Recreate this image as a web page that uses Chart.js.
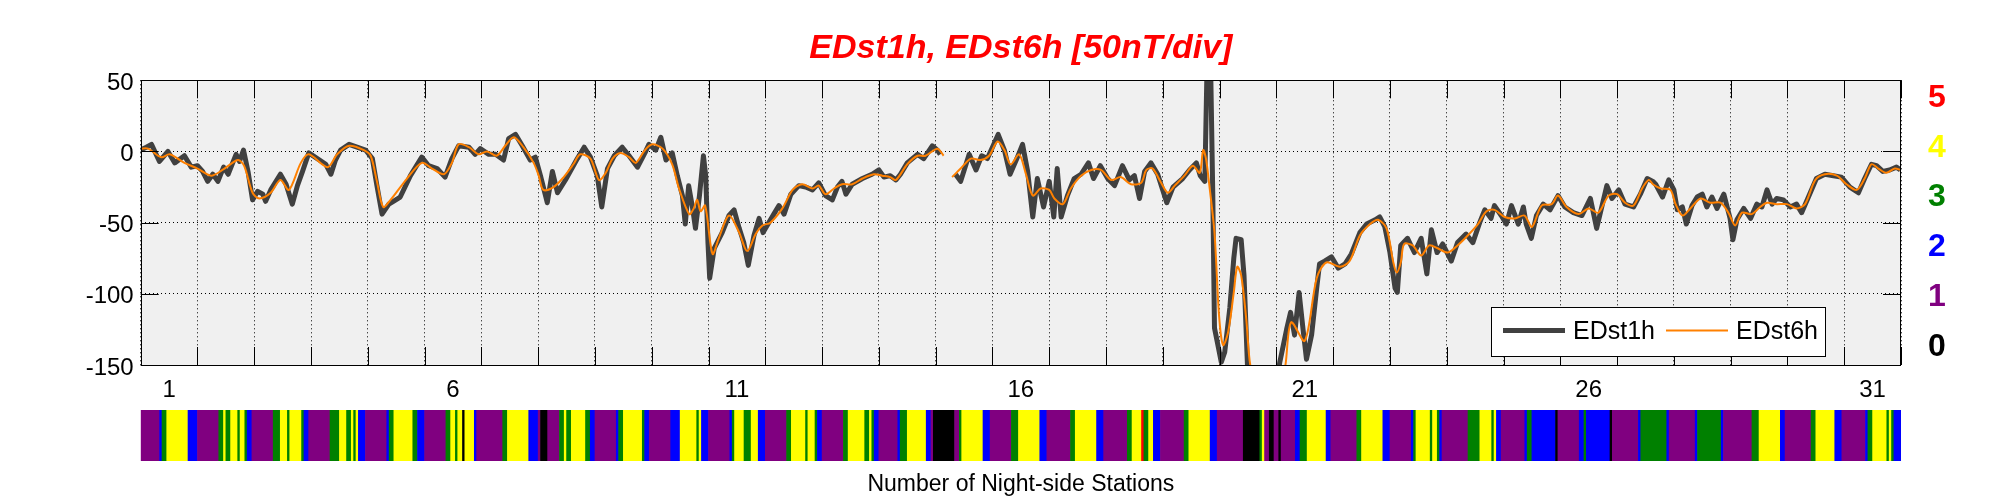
<!DOCTYPE html>
<html>
<head>
<meta charset="utf-8">
<script src="https://cdn.jsdelivr.net/npm/chart.js@4.4.1/dist/chart.umd.min.js"></script>
<style>
  body { margin: 0; background: #fff; }
  #wrap { position: relative; width: 2001px; height: 500px; }
  canvas { position: absolute; left: 0; }
  #main { top: 0; }
  #strip { top: 400px; }
</style>
</head>
<body>
<div id="wrap">
  <canvas id="main" width="2001" height="400"></canvas>
  <canvas id="strip" width="2001" height="100"></canvas>
</div>
<script>
// time is in days since the start of the month (0 = day 1, 00 UT)
let dayLabels = [1, 6, 11, 16, 21, 26, 31];
let yTicks = [-150, -100, -50, 0, 50];
let stationTicks = [0, 1, 2, 3, 4, 5];
let stationColors = ['#000000', '#800080', '#0000ff', '#008000', '#ffff00', '#ff0000'];

let edst1hDay = [
  0.00,0.10,0.19,0.33,0.48,0.60,0.77,0.89,1.00,1.09,
  1.18,1.27,1.36,1.46,1.54,1.68,1.74,1.81,1.89,1.97,
  2.06,2.15,2.20,2.29,2.46,2.56,2.67,2.76,2.85,2.96,
  3.11,3.26,3.35,3.43,3.52,3.67,3.81,3.96,4.08,4.16,
  4.25,4.37,4.45,4.57,4.75,4.95,5.07,5.22,5.36,5.48,
  5.60,5.78,5.89,5.98,6.13,6.25,6.39,6.48,6.60,6.72,
  6.86,6.95,7.04,7.16,7.25,7.34,7.48,7.69,7.81,7.92,
  8.04,8.12,8.22,8.34,8.48,8.60,8.75,8.88,8.95,9.07,
  9.16,9.25,9.36,9.45,9.54,9.59,9.65,9.72,9.77,9.84,
  9.91,9.95,9.99,10.02,10.10,10.24,10.36,10.45,10.54,10.62,
  10.70,10.80,10.89,10.96,11.06,11.15,11.24,11.33,11.45,11.59,
  11.71,11.83,11.94,12.06,12.18,12.27,12.35,12.42,12.53,12.71,
  12.88,13.00,13.09,13.20,13.30,13.38,13.50,13.68,13.79,13.94,
  14.03,14.08,14.20,14.35,14.44,14.59,14.71,14.81,14.91,15.00,
  15.10,15.21,15.31,15.43,15.53,15.62,15.71,15.79,15.90,16.00,
  16.08,16.14,16.21,16.32,16.44,16.56,16.69,16.78,16.90,17.03,
  17.15,17.29,17.41,17.50,17.59,17.68,17.79,17.91,18.07,18.18,
  18.35,18.47,18.59,18.66,18.74,18.78,18.84,18.88,18.91,18.97,
  19.03,19.09,19.18,19.25,19.29,19.38,19.43,19.50,19.65,19.85,
  20.00,20.06,20.18,20.25,20.32,20.40,20.47,20.53,20.62,20.71,
  20.76,20.85,20.97,21.09,21.21,21.32,21.47,21.59,21.74,21.82,
  21.91,22.00,22.09,22.13,22.19,22.31,22.43,22.55,22.65,22.73,
  22.83,22.93,23.08,23.19,23.34,23.46,23.58,23.67,23.78,23.84,
  23.96,24.05,24.14,24.26,24.35,24.40,24.49,24.58,24.70,24.82,
  24.96,25.08,25.23,25.38,25.53,25.64,25.73,25.82,25.91,26.03,
  26.14,26.29,26.41,26.53,26.63,26.68,26.80,26.91,27.00,27.06,
  27.15,27.22,27.32,27.41,27.50,27.58,27.67,27.76,27.88,27.99,
  28.04,28.11,28.23,28.35,28.46,28.55,28.64,28.73,28.81,28.93,
  29.05,29.16,29.25,29.37,29.51,29.66,29.81,29.95,30.10,30.25,
  30.36,30.48,30.57,30.68,30.80,30.92,30.99
];
let edst1hVal = [
  1,3,5,-7,0,-8,-3,-11,-10,-14,
  -21,-16,-21,-11,-16,-2,-7,1,-14,-34,
  -28,-30,-35,-27,-16,-23,-37,-24,-14,-1,
  -5,-9,-16,-6,1,5,3,1,-5,-24,
  -44,-37,-35,-32,-17,-4,-10,-12,-18,-5,
  4,3,-2,2,-2,-2,-6,9,12,4,
  -6,-4,-17,-36,-14,-29,-20,-5,3,-4,
  -17,-39,-12,-3,3,-3,-11,-1,5,1,
  10,-6,-1,-17,-31,-51,-24,-40,-54,-31,
  -3,-17,-64,-89,-68,-57,-45,-41,-54,-64,
  -80,-59,-47,-57,-50,-44,-38,-44,-30,-24,
  -25,-27,-22,-31,-34,-25,-21,-30,-23,-19,
  -16,-13,-18,-17,-20,-16,-8,-2,-5,4,
  1,-2,null,-16,-21,-2,-13,-3,-5,3,
  12,1,-16,-5,5,-14,-46,-19,-39,-21,
  -46,-12,-46,-31,-19,-16,-8,-19,-10,-19,
  -24,-10,-20,-17,-33,-14,-8,-16,-36,-25,
  -19,-13,-8,-17,-21,62,65,-30,-124,-136,
  -148,-141,-110,-75,-61,-62,-87,-160,-185,-190,
  -165,-148,-125,-113,-129,-99,-125,-146,-129,-96,
  -79,-77,-74,-82,-79,-72,-57,-51,-48,-46,
  -53,-71,-96,-99,-66,-61,-71,-61,-86,-55,
  -71,-65,-77,-64,-58,-64,-50,-41,-47,-38,
  -45,-51,-38,-51,-39,-51,-61,-45,-37,-41,
  -31,-39,-43,-45,-33,-54,-39,-24,-33,-27,
  -37,-39,-30,-19,-21,-23,-32,-20,-27,-41,
  -39,-51,-38,-32,-30,-39,-32,-40,-30,-47,
  -62,-48,-40,-47,-37,-39,-27,-37,-33,-34,
  -39,-37,-43,-32,-19,-16,-17,-18,-25,-29,
  -19,-9,-10,-14,-13,-11,-13
];

let edst6hDay = [
  0.00,0.13,0.36,0.51,0.77,1.00,1.24,1.44,1.71,1.82,
  1.97,2.09,2.29,2.46,2.61,2.82,2.96,3.29,3.46,3.67,
  3.93,4.05,4.16,4.27,4.40,4.69,4.95,5.13,5.34,5.48,
  5.60,5.78,5.95,6.10,6.27,6.42,6.57,6.74,6.92,7.01,
  7.09,7.27,7.45,7.62,7.74,7.92,8.07,8.19,8.31,8.45,
  8.60,8.72,8.88,9.01,9.19,9.36,9.48,9.66,9.74,9.80,
  9.86,9.94,10.07,10.18,10.36,10.54,10.68,10.83,10.95,11.09,
  11.30,11.48,11.65,11.83,11.94,12.06,12.21,12.35,12.53,12.71,
  12.91,13.06,13.20,13.30,13.50,13.68,13.82,14.03,14.14,14.20,
  14.29,14.44,14.62,14.79,14.94,15.09,15.21,15.32,15.47,15.59,
  15.71,15.85,16.00,16.09,16.24,16.38,16.56,16.74,16.91,17.09,
  17.26,17.44,17.62,17.71,17.82,17.97,18.09,18.21,18.38,18.53,
  18.65,18.71,18.76,18.82,18.91,18.99,19.06,19.15,19.25,19.31,
  19.38,19.47,19.54,19.70,19.90,20.10,20.16,20.26,20.50,20.71,
  20.88,21.12,21.29,21.47,21.65,21.79,21.94,22.06,22.12,22.19,
  22.25,22.40,22.55,22.69,22.84,23.02,23.19,23.37,23.55,23.70,
  23.84,24.02,24.20,24.37,24.50,24.67,24.85,24.96,25.11,25.32,
  25.50,25.67,25.85,26.00,26.14,26.29,26.44,26.56,26.63,26.77,
  26.94,27.03,27.15,27.29,27.47,27.64,27.82,27.96,28.08,28.20,
  28.37,28.52,28.64,28.81,28.99,29.16,29.31,29.49,29.66,29.87,
  30.04,30.22,30.36,30.48,30.60,30.74,30.89,31.00
];
let edst6hVal = [
  2,2,-4,-2,-8,-12,-17,-13,-6,-10,
  -29,-33,-29,-20,-27,-8,-2,-11,-2,4,
  1,-3,-21,-39,-34,-19,-8,-12,-16,-8,
  5,3,-2,0,-3,4,10,3,-8,-17,
  -27,-25,-18,-9,-2,-5,-20,-15,-5,-1,
  -4,-8,1,5,2,-9,-26,-44,-40,-34,
  -42,-38,-72,-61,-45,-57,-70,-58,-52,-50,
  -40,-27,-23,-26,-24,-30,-26,-23,-23,-19,
  -16,-17,-18,-20,-9,-3,-3,2,-3,null,
  -18,-12,-5,-6,-3,7,1,-9,-2,-16,
  -31,-26,-27,-33,-37,-26,-17,-13,-13,-20,
  -18,-23,-22,-13,-12,-22,-29,-24,-17,-10,
  -15,1,-5,-24,-57,-115,-136,-127,-99,-81,
  -87,-118,-150,-175,-180,-160,-150,-120,-133,-89,
  -78,-81,-77,-59,-51,-48,-54,-78,-85,-78,
  -65,-66,-73,-66,-68,-71,-66,-59,-51,-42,
  -41,-46,-47,-45,-53,-38,-37,-31,-39,-44,
  -40,-43,-31,-30,-36,-38,-26,-20,-23,-26,
  -27,-37,-45,-40,-33,-36,-36,-43,-52,-43,
  -44,-39,-36,-37,-37,-40,-37,-20,-16,-17,
  -23,-27,-19,-9,-12,-15,-12,-13
];

// night-side station count, as runs: hour where a run starts, and its count
let stationHour = [
  0,8,9,11,20,24,33,35,36,38,
  41,42,44,45,47,56,59,62,63,68,
  69,71,80,84,87,89,90,91,92,95,
  104,105,107,115,117,120,129,131,133,134,
  136,137,141,142,153,155,164,168,169,172,
  177,179,180,182,188,190,192,201,202,204,
  212,213,215,224,228,235,236,237,240,249,
  250,251,255,258,261,264,273,275,281,282,
  285,286,288,297,299,306,308,309,310,312,
  320,321,324,332,334,335,344,346,347,356,
  359,368,371,380,383,393,395,404,407,417,
  419,423,424,426,428,431,441,443,452,455,
  466,473,474,475,477,479,481,482,488,490,
  493,501,503,514,516,525,528,537,538,539,
  545,546,548,549,550,561,566,571,572,573,
  575,585,586,588,598,599,608,610,611,621,
  622,633,634,645,646,657,658,668,669,681,
  684,693,695,706,708,716,719,729,730,732,
  738,739,740,741
];
let stationCount = [
  1,2,3,4,2,1,3,4,3,4,
  3,4,3,2,1,3,4,3,4,3,
  2,1,3,4,3,4,3,4,2,1,
  2,3,4,3,2,1,3,4,3,4,
  0,4,2,1,3,4,2,1,0,1,
  3,4,3,4,3,2,1,2,3,4,
  3,2,1,2,4,3,4,2,1,2,
  3,4,3,4,2,1,3,4,3,4,
  3,2,1,3,4,3,4,3,2,1,
  2,3,4,2,1,0,1,3,4,2,
  1,3,4,2,1,3,4,2,1,3,
  4,5,3,4,2,1,3,4,2,1,
  0,3,4,1,0,1,0,1,2,3,
  4,2,1,3,4,2,1,2,3,4,
  3,4,3,2,1,3,4,3,4,2,
  1,2,3,2,0,1,2,3,2,0,
  1,2,3,2,1,2,3,2,1,3,
  4,2,1,3,4,2,1,2,3,4,
  3,4,3,2
];
let monthHours = 744;

Chart.defaults.font.family = '"Liberation Sans", Arial, Helvetica, sans-serif';
Chart.defaults.color = '#000';

let toPoints = (days, vals) => days.map((d, i) => ({x: d, y: vals[i]}));
let isDay = v => Number.isInteger(v);

// grey axes background, inward ticks and the black box, like the original
let axesBox = {
  id: 'axesBox',
  beforeDraw(chart) {
    let a = chart.chartArea, ctx = chart.ctx;
    ctx.save();
    ctx.fillStyle = '#f0f0f0';
    ctx.fillRect(a.left, a.top, a.right - a.left, a.bottom - a.top);
    ctx.restore();
  },
  afterDatasetsDraw(chart) {
    let a = chart.chartArea, ctx = chart.ctx;
    let xs = chart.scales.x, ys = chart.scales.y;
    ctx.save();
    ctx.strokeStyle = '#000';
    ctx.lineWidth = 1;
    ctx.beginPath();
    xs.ticks.filter(t => isDay(t.value)).forEach(t => {
      let px = Math.round(xs.getPixelForValue(t.value)) + 0.5;
      ctx.moveTo(px, a.top); ctx.lineTo(px, a.top + 18);
      ctx.moveTo(px, a.bottom); ctx.lineTo(px, a.bottom - 18);
    });
    ys.ticks.forEach(t => {
      let py = Math.round(ys.getPixelForValue(t.value)) + 0.5;
      ctx.moveTo(a.left, py); ctx.lineTo(a.left + 18, py);
      ctx.moveTo(a.right, py); ctx.lineTo(a.right - 18, py);
    });
    ctx.stroke();
    ctx.strokeRect(Math.round(a.left) + 0.5, Math.round(a.top) + 0.5,
      Math.round(a.right - a.left) - 1, Math.round(a.bottom - a.top));
    ctx.restore();
  }
};

// legend box in the lower right corner of the axes
let boxLegend = {
  id: 'boxLegend',
  afterDraw(chart) {
    let a = chart.chartArea, ctx = chart.ctx;
    let w = 334, h = 49;
    let bx = Math.round(a.right - 76 - w), by = Math.round(a.bottom - 9 - h);
    ctx.save();
    ctx.fillStyle = '#fff';
    ctx.fillRect(bx, by, w, h);
    ctx.strokeStyle = '#000';
    ctx.lineWidth = 1;
    ctx.strokeRect(bx + 0.5, by + 0.5, w, h);
    ctx.font = '25px "Liberation Sans", Arial, sans-serif';
    ctx.textBaseline = 'middle';
    ctx.fillStyle = '#000';
    let cy = by + h / 2;
    let offs = [12, 175];
    chart.data.datasets.forEach((ds, i) => {
      let lx = bx + offs[i];
      ctx.strokeStyle = ds.borderColor;
      ctx.lineWidth = ds.borderWidth;
      ctx.beginPath();
      ctx.moveTo(lx, cy - 1);
      ctx.lineTo(lx + 62, cy - 1);
      ctx.stroke();
      ctx.fillText(ds.label, lx + 70, cy + 1);
    });
    ctx.restore();
  }
};

// vertical axes must not push the plot box in with their end labels
let noEndPadding = s => { s.paddingTop = 0; s.paddingBottom = 0; };

new Chart(document.getElementById('main'), {
  type: 'line',
  data: {
    datasets: [
      {
        label: 'EDst1h',
        data: toPoints(edst1hDay, edst1hVal),
        borderColor: '#404040',
        borderWidth: 5,
        borderJoinStyle: 'round',
        pointRadius: 0,
        tension: 0,
        clip: 0,
        order: 1,
      },
      {
        label: 'EDst6h',
        data: toPoints(edst6hDay, edst6hVal),
        borderColor: '#ff8000',
        borderWidth: 2,
        pointRadius: 0,
        tension: 0.3,
        clip: 0,
        order: 0,
      },
    ],
  },
  options: {
    responsive: false,
    animation: false,
    layout: { padding: 0 },
    plugins: {
      legend: { display: false },
      tooltip: { enabled: false },
      title: {
        display: true,
        fullSize: false,
        text: 'EDst1h, EDst6h [50nT/div]',
        color: '#ff0000',
        font: { size: 34, style: 'italic', weight: 'bold', lineHeight: 1.2 },
        padding: { top: 28, bottom: 11.5 },
      },
    },
    scales: {
      // grid lines at day boundaries, day numbers at noon
      x: {
        type: 'linear', min: 0, max: 31,
        afterBuildTicks: s => { s.ticks = []; for (let k = 0; k <= 62; k++) s.ticks.push({ value: k / 2 }); },
        ticks: {
          callback: v => dayLabels.includes(v + 0.5) ? String(v + 0.5) : '',
          font: { size: 24 }, padding: 11, maxRotation: 0, autoSkip: false,
        },
        grid: {
          color: c => (c.tick && isDay(c.tick.value)) ? '#000' : 'rgba(0,0,0,0)',
          lineWidth: 1, drawTicks: false,
        },
        border: { display: false, dash: [1, 3] },
        afterFit: s => { s.height = 35; },
      },
      y: {
        type: 'linear', position: 'left', min: -150, max: 50,
        afterBuildTicks: s => { s.ticks = yTicks.map(v => ({ value: v })); },
        ticks: { font: { size: 24 }, padding: 7, labelOffset: 3 },
        grid: { color: '#000', lineWidth: 1, drawTicks: false },
        border: { display: false, dash: [1, 3] },
        afterFit: s => { s.width = 140.7; noEndPadding(s); },
      },
      y2: {
        type: 'linear', position: 'right', min: -0.36, max: 5.355,
        afterBuildTicks: s => { s.ticks = stationTicks.map(v => ({ value: v })); },
        ticks: {
          font: { size: 32, weight: 'bold' },
          color: c => stationColors[c.tick ? c.tick.value : 0],
          padding: 27,
        },
        grid: { display: false, drawTicks: false },
        border: { display: false },
        afterFit: s => { s.width = 100; noEndPadding(s); },
      },
    },
  },
  plugins: [axesBox, boxLegend],
});

// colour strip: one floating bar per run of equal station count
let runs = stationHour.map((h, i) => ({
  y: 'n',
  x: [h / 24, (i + 1 < stationHour.length ? stationHour[i + 1] : monthHours) / 24],
}));

new Chart(document.getElementById('strip'), {
  type: 'bar',
  data: {
    labels: ['n'],
    datasets: [{
      data: runs,
      backgroundColor: stationCount.map(c => stationColors[c]),
      borderWidth: 0,
      barPercentage: 1,
      categoryPercentage: 1,
    }],
  },
  options: {
    indexAxis: 'y',
    responsive: false,
    animation: false,
    layout: { padding: { left: 140.7, right: 100, top: 10, bottom: 0 } },
    plugins: { legend: { display: false }, tooltip: { enabled: false } },
    scales: {
      x: {
        type: 'linear', min: 0, max: 31,
        ticks: { display: false },
        grid: { display: false },
        border: { display: false },
        title: {
          display: true,
          text: 'Number of Night-side Stations',
          font: { size: 23 },
          padding: { top: 0, bottom: 2 },
        },
        afterFit: s => { s.height = 39; },
      },
      y: { display: false },
    },
  },
});
</script>
</body>
</html>
